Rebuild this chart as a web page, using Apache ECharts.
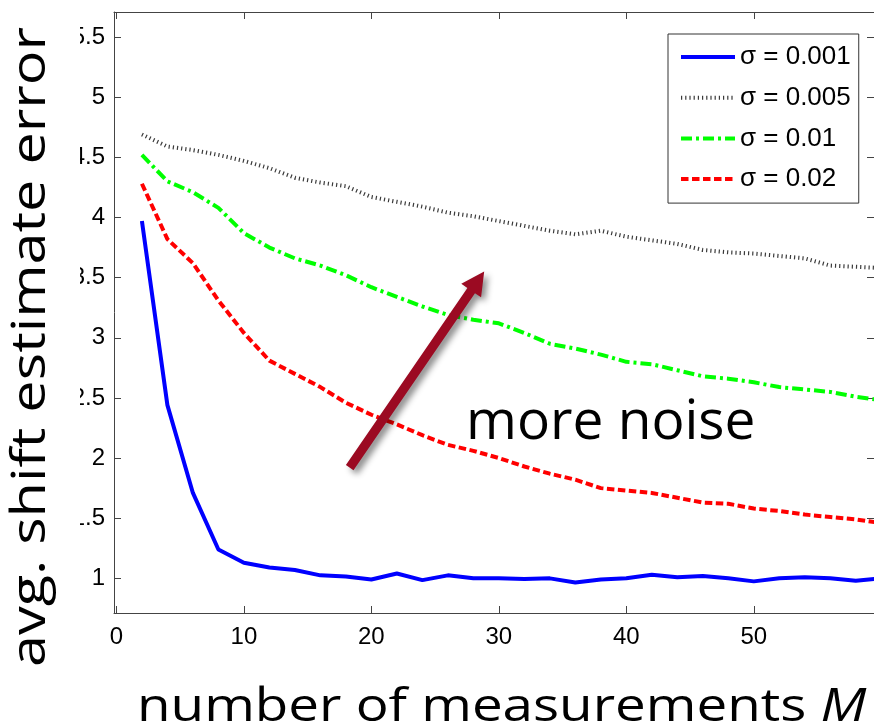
<!DOCTYPE html>
<html><head><meta charset="utf-8">
<script src="https://cdn.jsdelivr.net/npm/echarts@6/dist/echarts.min.js"></script>
<style>html,body{margin:0;padding:0;background:#fff}#c{width:874px;height:726px}</style>
</head><body><div id="c"></div>
<script>
// ---- data ----
const M = [2,4,6,8,10,12,14,16,18,20,22,24,26,28,30,32,34,36,38,40,42,44,46,48,50,52,54,56,58,60];
const seriesNames = ['σ = 0.001', 'σ = 0.005', 'σ = 0.01', 'σ = 0.02'];
const err001 = [3.97,2.44,1.71,1.24,1.13,1.09,1.07,1.025,1.015,0.99,1.04,0.985,1.025,1.0,1.0,0.995,1.0,0.965,0.99,1.0,1.03,1.01,1.02,1.0,0.975,1.0,1.01,1.0,0.98,1.0];
const err005 = [4.69,4.59,4.56,4.52,4.47,4.41,4.33,4.29,4.26,4.17,4.13,4.09,4.04,4.01,3.97,3.93,3.89,3.86,3.89,3.84,3.81,3.78,3.73,3.71,3.70,3.68,3.66,3.60,3.59,3.58];
const err01  = [4.52,4.30,4.21,4.08,3.87,3.75,3.66,3.60,3.52,3.42,3.34,3.26,3.19,3.15,3.12,3.04,2.95,2.91,2.86,2.80,2.78,2.73,2.68,2.66,2.63,2.59,2.57,2.55,2.51,2.48];
const err02  = [4.28,3.82,3.62,3.31,3.04,2.81,2.70,2.59,2.46,2.36,2.28,2.19,2.11,2.06,2.00,1.93,1.87,1.82,1.75,1.73,1.71,1.67,1.63,1.62,1.58,1.56,1.53,1.51,1.49,1.46];
const xTicks = [0,10,20,30,40,50];
const yTicks = [1,1.5,2,2.5,3,3.5,4,4.5,5,5.5];
const xTitle = 'number of measurements ';
const xTitleVar = 'M';
const yTitle = 'avg. shift estimate error';
const noteText = 'more noise';
// arrow annotation in data coordinates [M, error]
const arrowTail = [18.3, 1.92];
const arrowTip = [28.85, 3.55];

// ---- chart ----
const chart = echarts.init(document.getElementById('c'), null, {renderer: 'canvas'});
const axisColor = '#444';
const pair = (ys) => M.map((m, i) => [m, ys[i]]);
const lbl = {fontFamily: 'Liberation Sans', fontSize: 24, color: '#000'};

const mkSeries = (name, ys, color, width, type) => ({
  name, type: 'line', data: pair(ys), symbol: 'none', showSymbol: false, smooth: false, clip: true,
  lineStyle: {color, width, type}, itemStyle: {color}, z: 3
});

chart.setOption({
  animation: false,
  backgroundColor: '#fff',
  grid: {left: 114, right: -1, top: 12, bottom: 113, containLabel: false},
  xAxis: [{
    type: 'value', min: -0.19, max: 59.43, position: 'bottom',
    axisLine: {show: true, lineStyle: {color: axisColor, width: 1}},
    axisTick: {show: true, inside: true, length: 7, customValues: xTicks, lineStyle: {color: axisColor}},
    axisLabel: {show: true, margin: 12, customValues: xTicks, ...lbl},
    splitLine: {show: false}
  }, {
    type: 'value', min: -0.19, max: 59.43, position: 'top',
    axisLine: {show: true, onZero: false, lineStyle: {color: axisColor, width: 1}},
    axisTick: {show: true, inside: true, length: 7, customValues: xTicks, lineStyle: {color: axisColor}},
    axisLabel: {show: false}, splitLine: {show: false}
  }],
  yAxis: [{
    type: 'value', min: 0.712, max: 5.708, position: 'left',
    axisLine: {show: true, onZero: false, lineStyle: {color: axisColor, width: 1}},
    axisTick: {show: true, inside: true, length: 7, customValues: yTicks, lineStyle: {color: axisColor}},
    axisLabel: {show: true, margin: 9, customValues: yTicks, ...lbl},
    splitLine: {show: false}
  }, {
    type: 'value', min: 0.712, max: 5.708, position: 'right',
    axisLine: {show: true, onZero: false, lineStyle: {color: axisColor, width: 1}},
    axisTick: {show: true, inside: true, length: 7, customValues: yTicks, lineStyle: {color: axisColor}},
    axisLabel: {show: false}, splitLine: {show: false}
  }],
  legend: {
    orient: 'vertical', left: 668, top: 34,
    padding: [10, 8, 11, 11],
    backgroundColor: '#fff', borderColor: '#333', borderWidth: 1, borderRadius: 0,
    itemWidth: 54, itemHeight: 14, itemGap: 14.7,
    lineStyle: {width: 4},
    itemStyle: {color: 'rgba(0,0,0,0)', borderWidth: 0, opacity: 0},
    textStyle: {fontFamily: 'Liberation Sans', fontSize: 26, color: '#000', lineHeight: 26},
    data: seriesNames
  },
  series: [
    mkSeries(seriesNames[0], err001, '#0000ff', 4, 'solid'),
    mkSeries(seriesNames[1], err005, '#3a3a3a', 4, [1.2, 3]),
    mkSeries(seriesNames[2], err01, '#00ff00', 4, [11, 4, 3, 4]),
    mkSeries(seriesNames[3], err02, '#ff0000', 4, [7.5, 3.5])
  ]
});

// annotations positioned from data coordinates
const t = chart.convertToPixel({gridIndex: 0}, arrowTail);
const h = chart.convertToPixel({gridIndex: 0}, arrowTip);
const dx = h[0] - t[0], dy = h[1] - t[1];
const L = Math.hypot(dx, dy);
const ux = dx / L, uy = dy / L, nx = -uy, ny = ux;
const hw = 4.6, headLen = 23, hh = 12;
const bx = h[0] - ux * headLen, by = h[1] - uy * headLen;
const arrowPts = [
  [t[0] + nx * hw, t[1] + ny * hw],
  [bx + nx * hw, by + ny * hw],
  [bx + nx * hh, by + ny * hh],
  [h[0], h[1]],
  [bx - nx * hh, by - ny * hh],
  [bx - nx * hw, by - ny * hw],
  [t[0] - nx * hw, t[1] - ny * hw]
];

chart.setOption({
  graphic: [
    {type: 'rect', z: 50, shape: {x: 0, y: 0, width: 80, height: 690}, style: {fill: '#fff'}, silent: true},
    {type: 'text', z: 60, x: 31, y: 347, rotation: Math.PI / 2, scaleX: 1.2,
      style: {text: yTitle, font: '48px "Open Sans"', fill: '#000', align: 'center', verticalAlign: 'middle'}},
    {type: 'text', z: 60, x: 137, y: 708, scaleX: 1.19,
      style: {
        text: '{a|' + xTitle + '}{b|' + xTitleVar + '}', fill: '#000', align: 'left', verticalAlign: 'middle',
        rich: {
          a: {fontFamily: 'Open Sans', fontSize: 46, color: '#000'},
          b: {fontFamily: 'Open Sans', fontSize: 46, fontStyle: 'italic', color: '#000'}
        }
      }},
    {type: 'polygon', z: 40, shape: {points: arrowPts},
      style: {fill: '#9b0a22', shadowBlur: 6, shadowOffsetX: 4, shadowOffsetY: 4, shadowColor: 'rgba(0,0,0,0.45)'}},
    {type: 'text', z: 40, x: 466, y: 423,
      style: {text: noteText, font: '55px "Open Sans"', fill: '#000', align: 'left', verticalAlign: 'middle'}}
  ]
});
</script>
</body></html>
